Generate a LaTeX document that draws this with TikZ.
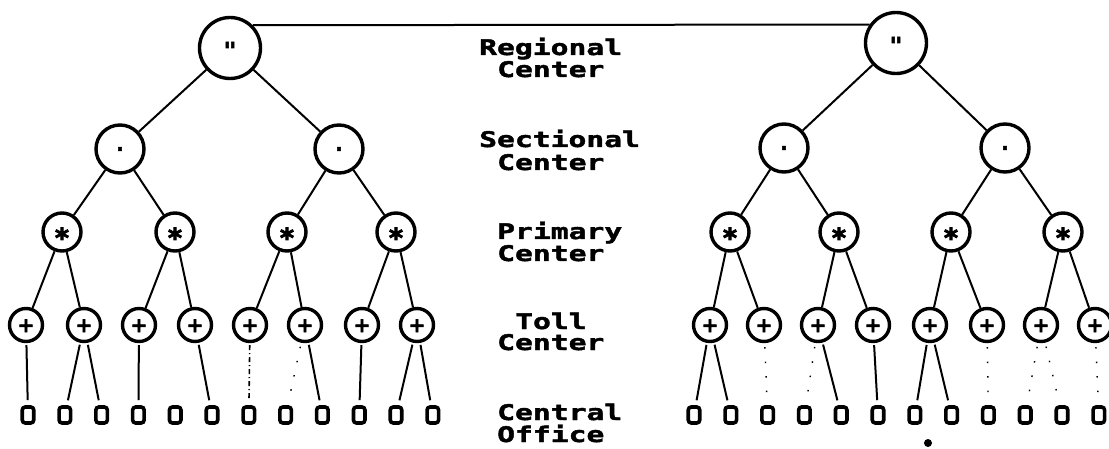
\documentclass[tikz,border=0pt]{standalone}
\usepackage{fontspec}
\newfontfamily\lblfont{DejaVu Sans Mono}[FakeStretch=1.38,FakeBold=2]
\newfontfamily\symfont{DejaVu Sans Mono}[FakeBold=3]
\newfontfamily\symsans{DejaVu Sans}[FakeBold=3]
\newcommand{\ctrsym}[2]{\raisebox{-#1}[0pt][0pt]{#2}}
\begin{document}
\begin{tikzpicture}[x=1pt,y=-1pt,
  ctr/.style={circle, draw, line width=3.4pt, inner sep=0pt},
  rootc/.style={ctr, minimum size=61pt},
  sectc/.style={ctr, minimum size=48pt},
  primc/.style={ctr, minimum size=38pt},
  tollc/.style={ctr, minimum size=33pt},
  office/.style={draw, rounded corners=3pt, line width=3.6pt, minimum width=11.5pt, minimum height=16pt, inner sep=0pt},
  conn/.style={line width=2pt},
  drop/.style={conn, shorten <=2pt, shorten >=5pt},
  broken/.style={drop, line width=1.6pt, dash pattern=on 5pt off 3pt on 1pt off 3pt},
  faint/.style={line width=1.4pt, dash pattern=on 1.5pt off 13pt, shorten <=4pt, shorten >=6pt},
  lbl/.style={anchor=base west, inner sep=0pt, font={\lblfont\bfseries\fontsize{21.5pt}{22pt}\selectfont}},
  symq/.style={font={\symfont\bfseries\fontsize{22pt}{22pt}\selectfont}},
  symd/.style={font={\symfont\bfseries\fontsize{20pt}{20pt}\selectfont}},
  syma/.style={font={\symsans\bfseries\fontsize{27pt}{27pt}\selectfont}},
  symp/.style={font={\symsans\bfseries\fontsize{20pt}{20pt}\selectfont}}
]
\path[fill=white] (0,0) rectangle (1109,449);
\useasboundingbox (0,0) rectangle (1109,449);

% roots
\node[rootc, symq] (RL) at (230,48) {\ctrsym{10pt}{"}};
\node[rootc, symq] (RR) at (896,43) {\ctrsym{10pt}{"}};
\draw[conn] (RL.north east) -- (RR.145);

% sectional
\node[sectc, symd] (sL1) at (120,149) {.};
\node[sectc, symd] (sL2) at (339,149) {.};
\node[sectc, symd] (sR1) at (784,148) {.};
\node[sectc, symd] (sR2) at (1005,148) {.};

% primary
\foreach \x [count=\i] in {62,175,287,396} \node[primc, syma] (pL\i) at (\x,232) {\ctrsym{15.5pt}{*}};
\foreach \x [count=\i] in {730,839,951,1063} \node[primc, syma] (pR\i) at (\x,232) {\ctrsym{15.5pt}{*}};

% toll
\foreach \x [count=\i] in {26,84,139,195,250,305,362,417} \node[tollc, symp] (tL\i) at (\x,325) {\ctrsym{7pt}{+}};
\foreach \x [count=\i] in {710,764,818,873,930,987,1041,1095} \node[tollc, symp] (tR\i) at (\x,325) {\ctrsym{7pt}{+}};

% central offices
\foreach \i in {1,...,12} {
  \node[office] (cL\i) at ({28+36.8*(\i-1)},415) {};
  \node[office] (cR\i) at ({694+36.8*(\i-1)},415) {};
}

% tree connectors
\draw[conn] (RL) -- (sL1); \draw[conn] (RL) -- (sL2);
\draw[conn] (RR) -- (sR1); \draw[conn] (RR) -- (sR2);
\draw[conn] (sL1) -- (pL1); \draw[conn] (sL1) -- (pL2);
\draw[conn] (sL2) -- (pL3); \draw[conn] (sL2) -- (pL4);
\draw[conn] (sR1) -- (pR1); \draw[conn] (sR1) -- (pR2);
\draw[conn] (sR2) -- (pR3); \draw[conn] (sR2) -- (pR4);
\foreach \p/\a/\b in {1/1/2,2/3/4,3/5/6,4/7/8} {
  \draw[conn] (pL\p) -- (tL\a); \draw[conn] (pL\p) -- (tL\b);
  \draw[conn] (pR\p) -- (tR\a); \draw[conn] (pR\p) -- (tR\b);
}

% toll to central office, left
\foreach \t/\c in {1/1,2/2,2/3,3/4,4/6,6/9,7/10,8/11,8/12}
  \draw[drop] (tL\t) -- (cL\c);
\draw[broken] (tL5) -- (cL7);
\draw[faint] (tL6) -- (cL8);
% toll to central office, right
\foreach \t/\c in {1/1,1/2,3/5,4/6,5/7,5/8}
  \draw[drop] (tR\t) -- (cR\c);
\foreach \t/\c in {2/3,3/4,6/9,7/10,7/11,8/12}
  \draw[faint] (tR\t) -- (cR\c);

\node[circle, fill, inner sep=0pt, minimum size=8pt] (spot) at (928,443) {};

% labels
\node[lbl] (l1a) at (479,55) {Regional};
\node[lbl] (l1b) at (497,77) {Center};
\node[lbl] (l2a) at (479,147) {Sectional};
\node[lbl] (l2b) at (497,170) {Center};
\node[lbl] (l3a) at (497,239) {Primary};
\node[lbl] (l3b) at (497,261) {Center};
\node[lbl] (l4a) at (515,329) {Toll};
\node[lbl] (l4b) at (497,350) {Center};
\node[lbl] (l5a) at (497,420) {Central};
\node[lbl] (l5b) at (497,442) {Office};
\end{tikzpicture}
\end{document}
